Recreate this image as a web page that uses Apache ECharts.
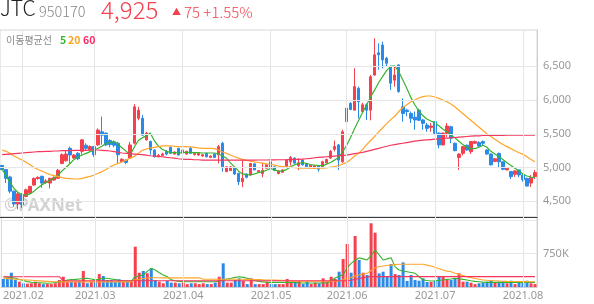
<!DOCTYPE html>
<html><head><meta charset="utf-8">
<script src="https://cdn.jsdelivr.net/npm/echarts@6/dist/echarts.min.js"></script>
<style>html,body{margin:0;padding:0;background:#fff}#c{width:594px;height:304px}</style>
</head><body><div id="c"></div>
<script>
// Korean trading days shown on the chart
const tradingDays = {
  '2021-01':[25,26,27,28,29],
  '2021-02':[1,2,3,4,5,8,9,10,15,16,17,18,19,22,23,24,25,26],
  '2021-03':[2,3,4,5,8,9,10,11,12,15,16,17,18,19,22,23,24,25,26,29,30,31],
  '2021-04':[1,2,5,6,7,8,9,12,13,14,15,16,19,20,21,22,23,26,27,28,29,30],
  '2021-05':[3,4,6,7,10,11,12,13,14,17,18,20,21,24,25,26,27,28,31],
  '2021-06':[1,2,3,4,7,8,9,10,11,14,15,16,17,18,21,22,23,24,25,28,29,30],
  '2021-07':[1,2,5,6,7,8,9,12,13,14,15,16,19,20,21,22,23,26,27,28,29,30],
  '2021-08':[2,3,4,5]
};
const monthStarts = ['2021-02-01','2021-03-02','2021-04-01','2021-05-03','2021-06-01','2021-07-01','2021-08-02'];
const priceTicks = [4500,5000,5500,6000,6500];
const volTicks = [750];

const opens = [5030,4970,4860,4650,4460,4600,4570,4620,4740,4835,4870,4780,4770,4815,4840,5060,5100,5285,5140,5210,5240,5330,5260,5310,5335,5530,5510,5400,5380,5360,5087,5110,5140,5360,5730,5730,5410,5385,5260,5160,5180,5240,5300,5200,5285,5215,5200,5285,5190,5185,5170,5210,5150,5200,5190,5360,4940,4955,4990,4915,4790,4905,4890,5055,4940,4910,4990,5085,5010,4910,4930,5010,5085,5140,5030,5110,5060,4995,4990,5025,5010,5070,5140,5270,5335,5085,5680,5950,5850,6175,5830,5930,5850,6370,6700,6815,6620,6495,6295,6520,5900,5850,5800,5745,5850,5705,5630,5595,5680,5510,5335,5507,5605,5360,5150,5210,5330,5235,5360,5370,5385,5260,5200,5090,5210,5085,4965,4940,4900,4965,4890,4840,4770,4865];
const closes = [4970,4840,4650,4460,4610,4450,4670,4720,4840,4855,4770,4800,4840,4850,4960,5190,5200,5185,5185,5130,5410,5285,5310,5190,5555,5480,5335,5340,5330,5190,5122,5075,5335,5900,5850,5480,5510,5260,5160,5180,5200,5200,5210,5230,5185,5260,5240,5210,5210,5210,5190,5160,5170,5150,5310,5010,5010,5010,4905,4790,4840,4855,5060,4965,4955,4955,5040,4990,4955,4950,4965,5110,5150,5065,5070,5040,5010,5035,5025,4975,5085,5120,5240,5310,5110,5530,5880,5860,6200,5975,5930,5850,6345,6670,6670,6595,6545,6250,6370,6125,5800,5830,5730,5705,5700,5655,5580,5615,5507,5335,5510,5615,5435,5250,5200,5310,5260,5385,5385,5320,5360,5200,5040,5130,5085,4975,4990,4865,4950,4890,4820,4725,4850,4925];
const lows = [4960,4770,4620,4420,4380,4400,4560,4600,4730,4820,4700,4760,4690,4800,4830,5050,5090,5060,5130,5110,5190,5260,5250,5160,5320,5340,5320,5300,5300,5060,5070,5050,5130,5340,5700,5470,5400,5190,5150,5150,5170,5180,5200,5190,5180,5190,5190,5200,5180,5170,5160,5150,5140,5140,5060,4940,4930,4950,4890,4740,4710,4840,4880,4960,4930,4855,4985,4940,4950,4900,4920,5000,5030,5060,4960,5030,4990,4990,4985,4940,5000,5060,5130,5240,4965,5070,5555,5850,5850,5730,5820,5705,5700,6360,6450,6470,6500,6150,6200,6110,5680,5760,5660,5560,5690,5560,5530,5530,5480,5285,5330,5450,5360,5240,4965,5180,5250,5200,5350,5300,5330,5190,5030,5080,5000,4960,4960,4830,4860,4855,4790,4720,4710,4830];
const highs = [5040,4980,4880,4660,4640,4620,4690,4730,4850,4870,4880,4830,4850,4870,4980,5210,5260,5310,5200,5230,5420,5360,5330,5320,5580,5755,5520,5420,5400,5380,5140,5120,5380,5940,5900,5780,5530,5400,5270,5200,5220,5260,5310,5240,5290,5270,5250,5310,5220,5220,5200,5220,5180,5210,5335,5380,5020,5020,5000,4920,5120,4910,5070,5060,4960,5070,5050,5110,5015,4960,4970,5120,5170,5150,5140,5120,5070,5040,5030,5030,5100,5130,5260,5400,5350,5560,5900,5970,6470,6200,5960,5950,6370,6915,6840,6865,6640,6510,6495,6530,6025,5870,5830,5830,5870,5720,5660,5660,5690,5520,5520,5660,5620,5370,5210,5320,5340,5390,5400,5390,5400,5270,5210,5140,5220,5090,5000,4950,4960,4970,4900,4850,4890,4965];
// volume in thousands of shares
const volumes = [180,180,320,157,120,83,75,83,120,83,65,65,65,83,157,230,120,120,120,134,358,83,120,134,290,246,157,157,120,172,120,120,120,902,320,358,306,418,157,120,83,141,97,97,83,97,65,83,83,65,83,65,65,97,230,530,97,97,157,195,134,65,195,65,65,65,120,65,65,65,65,180,120,120,134,67,120,67,97,83,195,120,230,180,343,627,963,320,1142,605,320,269,1426,1216,306,343,230,515,290,269,552,134,269,157,141,195,112,112,141,230,230,157,157,195,306,120,120,97,65,83,97,120,134,97,120,134,83,141,65,134,97,141,83,65];

const ma5 = [4980,4880,4780,4690,4630,4600,4590,4610,4650,4700,4745,4780,4815,4845,4890,4950,5005,5060,5120,5160,5185,5210,5235,5260,5285,5320,5360,5375,5385,5340,5290,5240,5190,5300,5400,5440,5470,5510,5400,5320,5270,5240,5225,5220,5215,5220,5225,5225,5220,5220,5215,5215,5215,5215,5200,5170,5140,5070,5010,4950,4905,4895,4890,4905,4925,4940,4960,4985,4965,4945,4950,4970,5010,5040,5060,5075,5060,5045,5035,5030,5025,5050,5075,5110,5150,5230,5330,5450,5580,5700,5820,5930,6050,6150,6260,6350,6440,6500,6505,6420,6300,6175,6040,5930,5840,5770,5720,5690,5665,5620,5570,5530,5480,5440,5390,5340,5300,5280,5280,5300,5330,5300,5240,5200,5160,5120,5070,5030,4990,4950,4905,4875,4860,4850];
const ma20 = [5260,5240,5210,5170,5140,5110,5080,5040,5000,4970,4945,4920,4895,4880,4865,4850,4840,4835,4830,4830,4840,4855,4870,4890,4915,4940,4970,5010,5040,5060,5085,5110,5140,5165,5210,5255,5275,5290,5300,5310,5320,5320,5320,5315,5310,5310,5310,5305,5300,5290,5285,5285,5285,5280,5260,5230,5210,5185,5160,5140,5120,5105,5095,5085,5075,5065,5055,5045,5035,5020,5015,5010,5005,5000,4995,4990,4990,4990,4990,4990,4990,4995,5005,5015,5030,5050,5075,5120,5170,5210,5270,5340,5400,5460,5530,5590,5650,5710,5760,5830,5890,5930,5970,6000,6030,6050,6060,6060,6045,6025,6000,5975,5940,5900,5850,5800,5750,5700,5650,5600,5550,5500,5460,5420,5380,5340,5310,5280,5250,5220,5195,5160,5120,5085];
const ma60 = [5190,5195,5200,5205,5210,5215,5220,5225,5230,5235,5235,5240,5240,5245,5245,5250,5250,5250,5255,5255,5255,5255,5260,5260,5260,5255,5250,5245,5235,5225,5215,5210,5205,5200,5195,5190,5185,5175,5170,5165,5160,5150,5145,5140,5130,5125,5120,5120,5115,5115,5110,5110,5110,5110,5110,5110,5110,5110,5110,5110,5110,5110,5110,5110,5112,5112,5112,5114,5114,5115,5115,5116,5118,5120,5120,5125,5130,5135,5145,5150,5155,5160,5165,5170,5175,5180,5185,5195,5205,5215,5225,5240,5255,5270,5285,5300,5315,5330,5340,5350,5360,5370,5380,5390,5400,5405,5410,5415,5420,5425,5430,5435,5440,5445,5450,5455,5460,5465,5470,5470,5475,5475,5475,5478,5478,5478,5480,5480,5480,5480,5480,5480,5480,5480];
const volMa5 = [230,220,210,195,170,145,120,105,97,95,90,85,90,100,115,130,157,165,170,180,190,195,180,160,175,195,195,180,165,150,141,138,134,230,250,268,350,418,380,320,270,230,160,141,125,119,119,119,119,119,119,119,119,119,135,157,180,195,215,230,215,195,170,140,125,115,105,104,104,104,104,104,104,104,90,90,90,90,90,90,90,90,141,200,240,276,430,530,600,656,630,605,700,828,720,605,630,656,450,380,360,343,325,306,230,157,145,134,140,150,157,170,180,195,185,170,157,140,125,119,110,104,104,104,104,104,104,104,104,104,104,104,104,104];
const volMa20 = [195,188,181,175,168,162,156,150,144,138,132,126,120,116,112,115,115,115,115,115,115,115,115,115,115,115,115,115,115,115,115,115,115,160,175,190,200,208,208,208,205,205,205,205,205,205,205,205,205,205,175,175,175,175,175,175,175,175,175,175,175,170,168,166,164,160,158,156,154,152,150,140,135,130,130,130,130,130,130,130,130,130,130,130,130,160,190,210,250,270,290,306,370,430,455,470,480,490,500,508,508,508,508,508,508,508,490,470,440,410,380,355,343,310,280,255,230,210,190,175,157,150,145,140,135,130,125,124,123,122,121,120,119,119];
const volMa60 = [230,230,230,230,230,230,230,230,230,230,230,230,230,230,230,140,140,140,140,140,140,140,140,140,140,140,140,140,140,140,140,140,140,140,140,140,140,140,140,140,140,140,140,140,140,140,140,140,140,140,140,140,140,140,140,140,140,140,140,140,140,140,140,140,140,140,140,140,140,140,140,140,140,140,140,140,140,140,140,140,140,140,140,140,140,140,140,150,170,190,210,225,232,232,232,232,232,232,232,232,232,232,232,232,232,232,232,232,232,232,232,232,232,232,232,232,232,232,232,232,232,232,232,232,232,232,232,232,232,232,232,232,232,232];

const dates = [];
for (const m in tradingDays) for (const d of tradingDays[m]) dates.push(m + '-' + String(d).padStart(2, '0'));

const UP = '#f5404e', DOWN = '#2a8ae6';
const C5 = '#36b32e', C20 = '#ffa52a', C60 = '#f5365e';
const candles = dates.map((d, i) => [opens[i], closes[i], lows[i], highs[i]]);
const isUp = i => closes[i] >= opens[i];
const blank = dates.map(() => null);

const chart = echarts.init(document.getElementById('c'), null, {renderer: 'canvas'});
const lineCommon = {type: 'line', symbol: 'none', smooth: false, silent: true, z: 4};
const gridLineStyle = {color: '#e6e6e6', width: 1, type: 'solid'};
chart.setOption({
  animation: false,
  backgroundColor: '#fff',
  textStyle: {fontFamily: '"Noto Sans", sans-serif'},
  grid: [
    {left: 0, right: 57, top: 30, height: 187, show: true, borderColor: '#d6d6d6', borderWidth: 1},
    {left: 0, right: 57, top: 217, height: 70, show: true, borderColor: '#d6d6d6', borderWidth: 1}
  ],
  xAxis: [
    {type: 'category', gridIndex: 0, data: dates, boundaryGap: true,
      axisLine: {show: true, lineStyle: {color: '#3a3a3a', width: 1}},
      axisTick: {show: false}, axisLabel: {show: false}, splitLine: {show: false}},
    {type: 'category', gridIndex: 1, data: dates, boundaryGap: true,
      axisLine: {show: true, lineStyle: {color: '#cfcfcf'}},
      axisTick: {show: false}, splitLine: {show: false},
      axisLabel: {interval: (i, v) => monthStarts.includes(v), formatter: v => v.slice(0, 7).replace('-', '.'),
        color: '#999', fontSize: 11, margin: 3, hideOverlap: false}}
  ],
  yAxis: [
    {type: 'value', gridIndex: 0, position: 'right', min: 4267, max: 7038, minInterval: 500, maxInterval: 500,
      axisLine: {show: true, lineStyle: {color: '#cfcfcf'}}, axisTick: {show: false}, splitLine: {show: false},
      axisLabel: {color: '#999', fontSize: 11, margin: 6, formatter: v => priceTicks.includes(v) ? v.toLocaleString('en-US') : ''}},
    {type: 'value', gridIndex: 1, position: 'right', min: 0, max: 1567, minInterval: 750, maxInterval: 750,
      axisLine: {show: true, lineStyle: {color: '#cfcfcf'}}, axisTick: {show: false},
      splitLine: {show: true, lineStyle: {color: '#e6e6e6'}},
      axisLabel: {color: '#999', fontSize: 11, margin: 6, formatter: v => volTicks.includes(v) ? v + 'K' : ''}}
  ],
  graphic: [
    {type: 'text', x: 0, y: 8.5, z: 10, style: {text: 'JTC', font: '300 21px "Noto Sans CJK KR"', fill: '#222', verticalAlign: 'middle'}},
    {type: 'text', x: 39, y: 11.5, z: 10, style: {text: '950170', font: '300 14.5px "Noto Sans CJK KR"', fill: '#888', verticalAlign: 'middle'}},
    {type: 'text', x: 101, y: 10, z: 10, style: {text: '4,925', font: '300 24px "Noto Sans CJK KR"', fill: '#f2414f', verticalAlign: 'middle'}},
    {type: 'text', x: 172, y: 12, z: 10, style: {text: '▲', font: '9px "Noto Sans CJK KR"', fill: '#f2414f', verticalAlign: 'middle'}},
    {type: 'text', x: 184, y: 12.5, z: 10, style: {text: '75 +1.55%', font: '300 15px "Noto Sans CJK KR"', fill: '#f2414f', verticalAlign: 'middle'}},
    {type: 'text', x: 6, y: 40, z: 10, style: {text: '이동평균선', font: '10px "Noto Sans CJK KR"', fill: '#888', verticalAlign: 'middle'}},
    {type: 'text', x: 60, y: 40, z: 10, style: {text: '5', font: 'bold 10.5px "Noto Sans CJK KR"', fill: '#2fb82a', verticalAlign: 'middle'}},
    {type: 'text', x: 68, y: 40, z: 10, style: {text: '20', font: 'bold 10.5px "Noto Sans CJK KR"', fill: '#ffa31a', verticalAlign: 'middle'}},
    {type: 'text', x: 83, y: 40, z: 10, style: {text: '60', font: 'bold 10.5px "Noto Sans CJK KR"', fill: '#ff2a62', verticalAlign: 'middle'}},
    {type: 'text', x: 4, y: 206, z: 0, style: {text: '©PAXNet', font: 'bold 17px "Noto Sans"', fill: '#d2d2d2', verticalAlign: 'middle'}}
  ],
  series: [
    {type: 'line', xAxisIndex: 0, yAxisIndex: 0, data: blank, z: 1, silent: true, symbol: 'none',
      markLine: {silent: true, symbol: ['none', 'none'], label: {show: false}, animation: false,
        lineStyle: gridLineStyle,
        data: monthStarts.map(d => ({xAxis: d})).concat(priceTicks.map(v => ({yAxis: v})))}},
    {type: 'line', xAxisIndex: 1, yAxisIndex: 1, data: blank, z: 1, silent: true, symbol: 'none',
      markLine: {silent: true, symbol: ['none', 'none'], label: {show: false}, animation: false,
        lineStyle: gridLineStyle,
        data: monthStarts.map(d => ({xAxis: d}))}},
    {type: 'candlestick', xAxisIndex: 0, yAxisIndex: 0, data: candles, barWidth: 3, z: 3, silent: true,
      itemStyle: {color: UP, color0: DOWN, borderColor: UP, borderColor0: DOWN, borderWidth: 1}},
    Object.assign({name: 'MA5', xAxisIndex: 0, yAxisIndex: 0, data: ma5, lineStyle: {color: C5, width: 1.2}}, lineCommon),
    Object.assign({name: 'MA20', xAxisIndex: 0, yAxisIndex: 0, data: ma20, lineStyle: {color: C20, width: 1.2}}, lineCommon),
    Object.assign({name: 'MA60', xAxisIndex: 0, yAxisIndex: 0, data: ma60, lineStyle: {color: C60, width: 1.2}}, lineCommon),
    {type: 'bar', xAxisIndex: 1, yAxisIndex: 1, barWidth: 3, z: 3, silent: true,
      data: volumes.map((v, i) => ({value: v, itemStyle: {color: isUp(i) ? UP : DOWN}}))},
    Object.assign({name: 'VMA5', xAxisIndex: 1, yAxisIndex: 1, data: volMa5, lineStyle: {color: C5, width: 1.1}}, lineCommon),
    Object.assign({name: 'VMA20', xAxisIndex: 1, yAxisIndex: 1, data: volMa20, lineStyle: {color: C20, width: 1.1}}, lineCommon),
    Object.assign({name: 'VMA60', xAxisIndex: 1, yAxisIndex: 1, data: volMa60, lineStyle: {color: C60, width: 1.1}}, lineCommon)
  ]
});
</script></body></html>
